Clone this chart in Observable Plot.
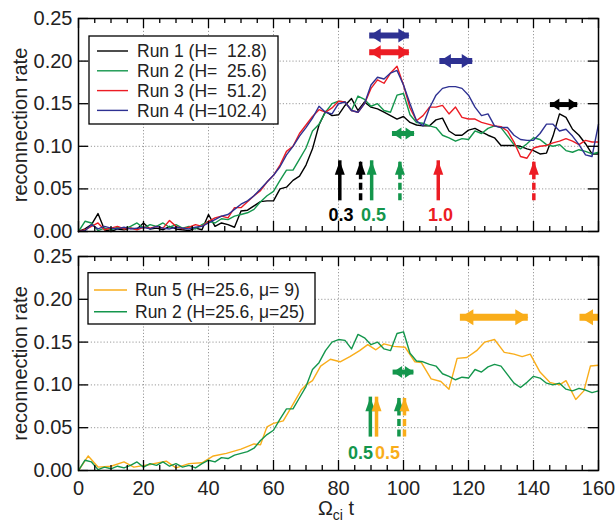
<!DOCTYPE html>
<html><head><meta charset="utf-8">
<script src="https://cdn.jsdelivr.net/npm/d3@7"></script>
<script src="https://cdn.jsdelivr.net/npm/@observablehq/plot@0.6"></script>
<style>
html,body{margin:0;padding:0;background:#fff;}
#chart{width:616px;height:525px;overflow:hidden;}
#chart svg{display:block;}
</style></head><body><div id="chart"></div>
<script>
// ---------------- data ----------------
const T = d3.range(0, 161, 2); // sampling times, Omega_ci t
const run1 = [0.000,0.003,0.008,0.021,0.002,0.000,0.003,0.002,0.004,0.003,
 0.010,0.003,0.004,0.002,0.006,0.003,0.002,0.001,0.004,0.002,
 0.020,0.006,0.010,0.008,0.005,0.024,0.025,0.030,0.035,0.036,
 0.036,0.050,0.052,0.060,0.065,0.078,0.097,0.125,0.141,0.136,
 0.137,0.148,0.156,0.142,0.152,0.146,0.144,0.140,0.136,0.132,
 0.135,0.128,0.125,0.124,0.124,0.131,0.133,0.118,0.113,0.113,
 0.119,0.121,0.117,0.113,0.110,0.101,0.101,0.101,0.100,0.097,
 0.095,0.091,0.092,0.112,0.138,0.134,0.120,0.113,0.103,0.091,
 0.091];
const run2 = [0.000,0.012,0.010,0.001,0.004,0.002,0.005,0.003,0.006,0.010,
 0.004,0.008,0.006,0.010,0.005,0.008,0.004,0.006,0.003,0.008,
 0.012,0.010,0.015,0.014,0.018,0.020,0.022,0.026,0.035,0.042,
 0.047,0.060,0.072,0.072,0.085,0.098,0.118,0.126,0.140,0.150,
 0.153,0.152,0.142,0.159,0.155,0.147,0.150,0.142,0.140,0.160,
 0.162,0.137,0.128,0.127,0.124,0.122,0.113,0.110,0.106,0.109,
 0.108,0.118,0.115,0.121,0.124,0.122,0.112,0.102,0.097,0.103,
 0.110,0.108,0.102,0.100,0.102,0.095,0.093,0.096,0.094,0.091,
 0.093];
const run3 = [0.000,0.002,0.006,0.010,0.002,0.004,0.006,0.003,0.004,0.002,
 0.005,0.004,0.006,0.004,0.013,0.006,0.003,0.005,0.008,0.006,
 0.012,0.016,0.018,0.016,0.028,0.028,0.035,0.042,0.048,0.058,
 0.066,0.078,0.094,0.100,0.115,0.125,0.135,0.143,0.140,0.145,
 0.153,0.152,0.142,0.140,0.150,0.168,0.178,0.174,0.186,0.194,
 0.172,0.145,0.130,0.136,0.146,0.146,0.148,0.138,0.146,0.134,
 0.132,0.132,0.128,0.126,0.124,0.123,0.118,0.105,0.088,0.086,
 0.098,0.100,0.101,0.104,0.106,0.109,0.106,0.102,0.107,0.105,
 0.105];
const run4 = [0.000,0.001,0.008,0.003,0.006,0.004,0.003,0.005,0.003,0.004,
 0.005,0.003,0.006,0.004,0.003,0.005,0.004,0.003,0.005,0.006,
 0.010,0.014,0.018,0.020,0.026,0.032,0.036,0.042,0.050,0.058,
 0.066,0.076,0.090,0.100,0.112,0.122,0.133,0.147,0.140,0.138,
 0.150,0.152,0.142,0.140,0.150,0.172,0.181,0.179,0.186,0.189,
 0.172,0.150,0.130,0.124,0.145,0.160,0.168,0.170,0.170,0.168,
 0.160,0.146,0.136,0.138,0.124,0.122,0.122,0.113,0.108,0.107,
 0.107,0.115,0.126,0.126,0.118,0.120,0.112,0.102,0.090,0.088,
 0.126];
const T5 = [0,3,6,10,14,17,22,27,30,34,38,41.5,45.5,50,54,56,58,60,63,65.5,68.5,70,72,74.5,77.5,80.5,83.5,86.5,89,91.5,94,97,100.5,103.5,105.5,108.5,111.5,114,116.5,119.5,122.5,125,128,131,134,136.5,139,142,145,148,150,153,155.5,157.5,160];
const run5 = [0,0.017,0.004,0.005,0.010,0.004,0.007,0.011,0.003,0.008,0.009,0.017,0.020,0.025,0.031,0.030,0.051,0.055,0.058,0.074,0.094,0.100,0.105,0.122,0.130,0.127,0.133,0.140,0.147,0.141,0.148,0.145,0.144,0.127,0.126,0.107,0.104,0.095,0.131,0.132,0.140,0.150,0.153,0.138,0.136,0.133,0.136,0.115,0.103,0.100,0.105,0.083,0.093,0.122,0.123];

const legendTop = [
  {run:"run1", label:"Run 1 (H=\u00a0\u00a012.8)"},
  {run:"run2", label:"Run 2 (H=\u00a0\u00a025.6)"},
  {run:"run3", label:"Run 3 (H=\u00a0\u00a051.2)"},
  {run:"run4", label:"Run 4 (H=102.4)"}
];
const legendBottom = [
  {run:"run5", label:"Run 5 (H=25.6, \u03bc=\u00a09)"},
  {run:"run2", label:"Run 2 (H=25.6, \u03bc=25)"}
];

// annotations (times / rates)
const hArrowsTop = [
  {run:"run4", t1:89.6, t2:101.8, r:0.230},
  {run:"run3", t1:89.6, t2:101.8, r:0.2105},
  {run:"run4", t1:111.2, t2:121.3, r:0.200},
  {run:"run1", t1:145.2, t2:153.6, r:0.149},
  {run:"run2", t1:96.6, t2:103.4, r:0.115}
];
const hArrowsBottom = [
  {run:"run5", t1:117.5, t2:138.4, r:0.179},
  {run:"run5", t1:154.3, t2:160, r:0.179, open:true},
  {run:"run2", t1:96.8, t2:103.2, r:0.115}
];
const vArrowsTop = [
  {run:"run1", t:80.4}, {run:"run1", t:86.8, dashed:true},
  {run:"run2", t:90.2}, {run:"run2", t:98.9, dashed:true},
  {run:"run3", t:110.7}, {run:"run3", t:140.1, dashed:true}
];
const vArrowsBottom = [
  {run:"run2", t:89.8}, {run:"run5", t:91.7},
  {run:"run2", t:98.6, dashed:true}, {run:"run5", t:100.3, dashed:true}
];
const vRangeTop = [0.036, 0.083];
const vRangeBottom = [0.039, 0.0857];
const labelsTop = [
  {run:"run1", t:80.8, r:0.019, text:"0.3"},
  {run:"run2", t:90.8, r:0.019, text:"0.5"},
  {run:"run3", t:111.4, r:0.019, text:"1.0"}
];
const labelsBottom = [
  {run:"run2", t:86.8, r:0.020, text:"0.5"},
  {run:"run5", t:95.1, r:0.020, text:"0.5"}
];

const xMajor = [0,20,40,60,80,100,120,140,160];
const xMinor = d3.range(5, 160, 5).filter(d => d % 20 !== 0);
const gridT = [20,40,60,80,100,120,140];
const yTicks = [0,0.05,0.10,0.15,0.20,0.25];
const gridR = [0.05,0.10,0.15,0.20];

// ---------------- styles ----------------
const FONT = "'Liberation Sans', Arial, Helvetica, sans-serif";
const colors = {run1:"#000000", run2:"#14964c", run3:"#ec1c24", run4:"#2e3192", run5:"#f9ad1a"};
const headDims = {run1:[9,12,5], run2:[9,12,5], run3:[11,14,6], run4:[11,14,6], run5:[13,16,7]};
const W = 616, ML = 78, MR = 18, frameW = W - ML - MR;

function headSymbol(dir, len, wid) {
  const h = wid / 2;
  return {draw(ctx) {
    ctx.moveTo(0, 0);
    if (dir === "up") { ctx.lineTo(-h, len); ctx.lineTo(h, len); }
    else if (dir === "right") { ctx.lineTo(-len, -h); ctx.lineTo(-len, h); }
    else { ctx.lineTo(len, -h); ctx.lineTo(len, h); }
    ctx.closePath();
  }};
}

function panel({height, marginTop, marginBottom, series, hArrows, vArrows, vRange, labels, xLabels}) {
  const frameH = height - marginTop - marginBottom;
  const marks = [
    Plot.gridX(gridT, {stroke:"#9a9a9a", strokeOpacity:1, strokeWidth:1, strokeDasharray:"1.2,2"}),
    Plot.gridY(gridR, {stroke:"#9a9a9a", strokeOpacity:1, strokeWidth:1, strokeDasharray:"1.2,2"}),
  ];
  for (const s of series) {
    const rows = s.values.map((r, i) => ({t: s.t[i], r}));
    marks.push(Plot.line(rows, {x:"t", y:"r", stroke: colors[s.run], strokeWidth:1.4}));
  }
  for (const a of hArrows) {
    const [len, wid, sw] = headDims[a.run];
    const c = colors[a.run];
    marks.push(Plot.ruleY([a], {x1:"t1", x2:"t2", y:"r", stroke:c, strokeWidth:sw}));
    marks.push(Plot.dot([a], {x:"t1", y:"r", symbol: headSymbol("left", len, wid), fill:c, stroke:null}));
    if (!a.open) marks.push(Plot.dot([a], {x:"t2", y:"r", symbol: headSymbol("right", len, wid), fill:c, stroke:null}));
  }
  for (const a of vArrows) {
    const c = colors[a.run];
    marks.push(Plot.ruleX([a], {x:"t", y1: () => vRange[0], y2: () => vRange[1], stroke:c, strokeWidth:3.5,
      strokeDasharray: a.dashed ? "7,3.5" : null}));
    marks.push(Plot.dot([a], {x:"t", y: () => vRange[1], symbol: headSymbol("up", 14, 10), fill:c, stroke:null}));
  }
  for (const l of labels) {
    marks.push(Plot.text([l], {x:"t", y:"r", text:"text", fill: colors[l.run], fontWeight:"bold", fontSize:18}));
  }
  marks.push(
    Plot.frame({stroke:"black", strokeWidth:1.5}),
    Plot.ruleX(xMajor, {insetTop: frameH - 10, stroke:"black", strokeWidth:1.3}),
    Plot.ruleX(xMajor, {insetBottom: frameH - 10, stroke:"black", strokeWidth:1.3}),
    Plot.ruleX(xMinor, {insetTop: frameH - 5, stroke:"black", strokeWidth:1.3}),
    Plot.ruleX(xMinor, {insetBottom: frameH - 5, stroke:"black", strokeWidth:1.3}),
    Plot.ruleY(yTicks, {insetRight: frameW - 10, stroke:"black", strokeWidth:1.3}),
    Plot.ruleY(yTicks, {insetLeft: frameW - 10, stroke:"black", strokeWidth:1.3}),
    Plot.axisY(yTicks, {tickSize:0, tickPadding:6, tickFormat: d3.format(".2f"), fontSize:20, fill:"#222", label:null}),
    Plot.text(["reconnection rate"], {frameAnchor:"left", dx:-58, rotate:-90, textAnchor:"middle", text: d => d, fontSize:20, fill:"#222"})
  );
  if (xLabels) marks.push(Plot.axisX(xMajor, {tickSize:0, tickPadding:10, fontSize:20, fill:"#222", label:null}));
  return Plot.plot({
    width: W, height, marginLeft: ML, marginRight: MR, marginTop, marginBottom,
    x: xLabels ? {domain:[0,160]} : {domain:[0,160], axis:null},
    y: {domain:[0,0.25]},
    style: {fontFamily: FONT, fontSize: "20px", background: "white", color: "black", overflow: "visible"},
    marks
  });
}

function addLegend(svg, items, box, rowY, lineX, textX) {
  const g = d3.select(svg).append("g").attr("font-family", FONT).attr("font-size", "17.5px")
    .attr("text-anchor", "start");
  g.append("rect").attr("x", box[0]).attr("y", box[1]).attr("width", box[2]).attr("height", box[3])
    .attr("fill", "white").attr("stroke", "black").attr("stroke-width", 1.3);
  items.forEach((d, i) => {
    const y = rowY[0] + i * rowY[1];
    g.append("line").attr("x1", lineX[0]).attr("x2", lineX[1]).attr("y1", y).attr("y2", y)
      .attr("stroke", colors[d.run]).attr("stroke-width", 1.4);
    g.append("text").attr("x", textX).attr("y", y).attr("dy", "0.35em").attr("text-anchor", "start")
      .attr("fill", "#222").text(d.label);
  });
}

const topSvg = panel({
  height: 245, marginTop: 18, marginBottom: 14,
  series: [{run:"run1", t:T, values:run1}, {run:"run2", t:T, values:run2}, {run:"run3", t:T, values:run3}, {run:"run4", t:T, values:run4}],
  hArrows: hArrowsTop, vArrows: vArrowsTop, vRange: vRangeTop, labels: labelsTop, xLabels: false
});
addLegend(topSvg, legendTop, [89, 36, 189, 88], [51, 19.8], [97, 128], 137);

const bottomSvg = panel({
  height: 280, marginTop: 11, marginBottom: 55,
  series: [{run:"run5", t:T5, values:run5}, {run:"run2", t:T, values:run2}],
  hArrows: hArrowsBottom, vArrows: vArrowsBottom, vRange: vRangeBottom, labels: labelsBottom, xLabels: true
});
addLegend(bottomSvg, legendBottom, [88, 27.7, 227, 51.3], [45, 21.7], [94, 127], 135);

const xl = d3.select(bottomSvg).append("text").attr("x", 336).attr("y", 270).attr("text-anchor", "middle")
  .attr("font-family", FONT).attr("font-size", "20px").attr("fill", "#222");
xl.append("tspan").text("\u03a9");
xl.append("tspan").attr("dy", 5).attr("font-size", "14px").text("ci");
xl.append("tspan").attr("dy", -5).text("\u00a0t");

document.getElementById("chart").append(topSvg, bottomSvg);
</script></body></html>
